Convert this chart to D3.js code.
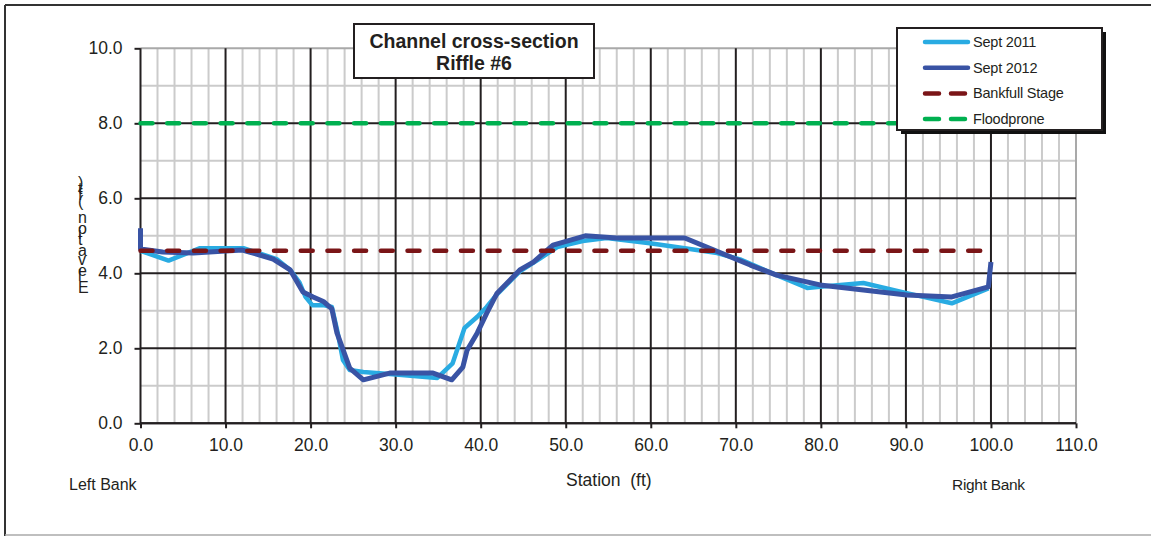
<!DOCTYPE html>
<html><head><meta charset="utf-8">
<script src="https://cdn.jsdelivr.net/npm/d3@7"></script>
<style>
html,body{margin:0;padding:0;background:#fff;}
text{font-family:"Liberation Sans",Arial,sans-serif;fill:#231f20;}
</style></head>
<body><svg id="chart" width="1151" height="536"></svg>
<script>
// ---- data ----
const station2011 = [0, 3.3, 7.0, 12.1, 16, 17.6, 18.7, 19.4, 20.2, 21.5, 22.5, 23.2, 23.8, 24.6, 26.2, 30, 34.9, 36.7, 38.1, 39.6, 40.7, 42, 44.6, 47, 49, 52, 54.8, 59.9, 64, 67.8, 70.5, 74.8, 78.4, 79.9, 85, 90.1, 95.4, 99.7];
const elev2011    = [4.6, 4.34, 4.67, 4.67, 4.38, 4.09, 3.75, 3.37, 3.15, 3.15, 3.1, 2.4, 1.69, 1.42, 1.37, 1.3, 1.21, 1.6, 2.54, 2.84, 3.1, 3.46, 4.05, 4.4, 4.7, 4.86, 4.94, 4.8, 4.67, 4.54, 4.37, 3.95, 3.61, 3.64, 3.74, 3.47, 3.2, 3.6];
const station2012 = [0, 0, 2.6, 6.2, 10.5, 12, 15.6, 17.6, 19.1, 20.3, 21.5, 22.5, 23.1, 24.6, 26.2, 29.3, 34.4, 36.6, 37.9, 38.4, 39.6, 40.7, 41.9, 44.6, 46.2, 48.5, 52.3, 56, 64, 71.7, 74.8, 79.9, 90.1, 95.4, 99.7, 100];
const elev2012    = [5.2, 4.65, 4.57, 4.54, 4.6, 4.62, 4.38, 4.09, 3.5, 3.37, 3.25, 3.05, 2.41, 1.47, 1.16, 1.34, 1.34, 1.16, 1.5, 1.95, 2.41, 2.93, 3.46, 4.09, 4.3, 4.75, 5.0, 4.94, 4.94, 4.22, 3.95, 3.69, 3.42, 3.37, 3.64, 4.3];
const bankfullStation = [0, 100];
const bankfullElev = [4.6, 4.6];
const floodStation = [0, 100];
const floodElev = [8.0, 8.0];
const xTicks = [0, 10, 20, 30, 40, 50, 60, 70, 80, 90, 100, 110];
const yTicks = [0, 2, 4, 6, 8, 10];
const seriesNames = ["Sept 2011", "Sept 2012", "Bankfull Stage", "Floodprone"];
const titleLines = ["Channel cross-section", "Riffle #6"];

// ---- drawing ----
const svg = d3.select("#chart");
const x = d3.scaleLinear().domain([0, 110]).range([140.5, 1076]);
const y = d3.scaleLinear().domain([0, 10]).range([423.3, 48.3]);
const C = {light:"#29abe2", dark:"#3953a4", red:"#7a1517", green:"#00b050", grid:"#cbcbcb", major:"#231f20"};

// outer frame
svg.append("line").attr("x1",5).attr("x2",1151).attr("y1",5).attr("y2",5).attr("stroke","#333").attr("stroke-width",2);
svg.append("line").attr("x1",5).attr("x2",5).attr("y1",5).attr("y2",536).attr("stroke","#333").attr("stroke-width",2);
svg.append("line").attr("x1",5).attr("x2",1151).attr("y1",535).attr("y2",535).attr("stroke","#aaa").attr("stroke-width",1.5);

const g = svg.append("g");
// minor grid
const minorX = d3.range(0, 111, 2).filter(v => v % 10 !== 0);
const minorY = d3.range(1, 10, 2);
g.selectAll(".mx").data(minorX).join("line")
  .attr("x1", d=>x(d)).attr("x2", d=>x(d)).attr("y1", y(0)).attr("y2", y(10))
  .attr("stroke", C.grid).attr("stroke-width", 2);
g.selectAll(".my").data(minorY).join("line")
  .attr("x1", x(0)).attr("x2", x(110)).attr("y1", d=>y(d)).attr("y2", d=>y(d))
  .attr("stroke", C.grid).attr("stroke-width", 2);
// top and right border (gray)
g.append("line").attr("x1", x(0)).attr("x2", x(110)).attr("y1", y(10)).attr("y2", y(10)).attr("stroke", "#a9a9a9").attr("stroke-width", 2);
g.append("line").attr("x1", x(110)).attr("x2", x(110)).attr("y1", y(10)).attr("y2", y(0)).attr("stroke", "#a9a9a9").attr("stroke-width", 2);
// major grid
g.selectAll(".MX").data(xTicks.filter(d=>d<110)).join("line")
  .attr("x1", d=>x(d)).attr("x2", d=>x(d)).attr("y1", y(0)).attr("y2", y(10))
  .attr("stroke", C.major).attr("stroke-width", 2);
g.selectAll(".MY").data(yTicks.filter(d=>d<10)).join("line")
  .attr("x1", x(0)).attr("x2", x(110)).attr("y1", d=>y(d)).attr("y2", d=>y(d))
  .attr("stroke", C.major).attr("stroke-width", 2);

// axes
const xAxis = d3.axisBottom(x).tickValues(xTicks).tickSize(5).tickPadding(10).tickFormat(d3.format(".1f"));
const yAxis = d3.axisLeft(y).tickValues(yTicks).tickSize(6).tickPadding(12).tickFormat(d3.format(".1f"));
const ax = svg.append("g").attr("transform", `translate(0,${y(0)})`).call(xAxis);
const ay = svg.append("g").attr("transform", `translate(${x(0)},0)`).call(yAxis);
[ax, ay].forEach(a => {
  a.select(".domain").attr("stroke", C.major).attr("stroke-width", 2);
  a.selectAll(".tick line").attr("stroke", C.major).attr("stroke-width", 2);
  a.selectAll(".tick text").attr("font-size", 17.5).attr("fill", "#231f20")
   .style("font-family", "'Liberation Sans',Arial,sans-serif");
});
ay.select(".domain").remove();
ax.select(".domain").attr("d", `M${x(0)},0H${x(110)}`);

// series
const line = d3.line().x(d=>x(d[0])).y(d=>y(d[1]));
const s2011 = station2011.map((s,i)=>[s, elev2011[i]]);
const s2012 = station2012.map((s,i)=>[s, elev2012[i]]);
const bf = bankfullStation.map((s,i)=>[s, bankfullElev[i]]);
const fp = floodStation.map((s,i)=>[s, floodElev[i]]);
svg.append("path").datum(s2011).attr("d", line).attr("fill","none").attr("stroke",C.light).attr("stroke-width",4.5).attr("stroke-linejoin","round");
svg.append("path").datum(s2012).attr("d", line).attr("fill","none").attr("stroke",C.dark).attr("stroke-width",5).attr("stroke-linejoin","round");
svg.append("path").datum(bf).attr("d", line).attr("fill","none").attr("stroke",C.red).attr("stroke-width",4.5).attr("stroke-dasharray","12,14.7").attr("stroke-linecap","round");
svg.append("path").datum(fp).attr("d", line).attr("fill","none").attr("stroke",C.green).attr("stroke-width",4.5).attr("stroke-dasharray","12,14.7").attr("stroke-linecap","round");

// y label (upright stacked glyphs)
const yl = "Elevation (ft)";
svg.append("text")
  .attr("transform", "translate(78,237) rotate(-90)")
  .attr("text-anchor", "middle")
  .attr("rotate", "90")
  .attr("font-size", 16).attr("letter-spacing", 1.6)
  .text(yl);

// x label and bank labels
svg.append("text").attr("x", 566).attr("y", 486).attr("font-size", 17.5).style("white-space","pre").text("Station  (ft)");
svg.append("text").attr("x", 69).attr("y", 490).attr("font-size", 16).text("Left Bank");
svg.append("text").attr("x", 952).attr("y", 490).attr("font-size", 15.5).attr("letter-spacing", -0.3).text("Right Bank");

// title box
svg.append("rect").attr("x", 354).attr("y", 24).attr("width", 240).attr("height", 54).attr("fill","#fff").attr("stroke","#231f20").attr("stroke-width",2);
svg.selectAll(".title").data(titleLines).join("text")
  .attr("x", 474).attr("y", (d,i)=> 48 + i*22).attr("text-anchor","middle")
  .attr("font-size", 19.5).attr("font-weight","bold").text(d=>d);

// legend
const lg = svg.append("g");
lg.append("rect").attr("x", 901).attr("y", 32).attr("width", 205).attr("height", 102).attr("fill","#111");
lg.append("rect").attr("x", 897).attr("y", 28).attr("width", 205).attr("height", 102).attr("fill","#fff").attr("stroke","#231f20").attr("stroke-width",2);
const legendStyles = [
  {c:C.light, dash:null},
  {c:C.dark, dash:null},
  {c:C.red, dash:"14,12"},
  {c:C.green, dash:"14,12"}
];
seriesNames.forEach((n,i)=>{
  const yy = 42 + i*25.7;
  const st = legendStyles[i];
  lg.append("line").attr("x1", 925).attr("x2", 968).attr("y1", yy).attr("y2", yy)
    .attr("stroke", st.c).attr("stroke-width", 4.5).attr("stroke-linecap","round")
    .attr("stroke-dasharray", st.dash);
  lg.append("text").attr("x", 973).attr("y", yy).attr("dy","0.35em").attr("font-size", 14.5).attr("letter-spacing",-0.2).text(n);
});
</script></body></html>
